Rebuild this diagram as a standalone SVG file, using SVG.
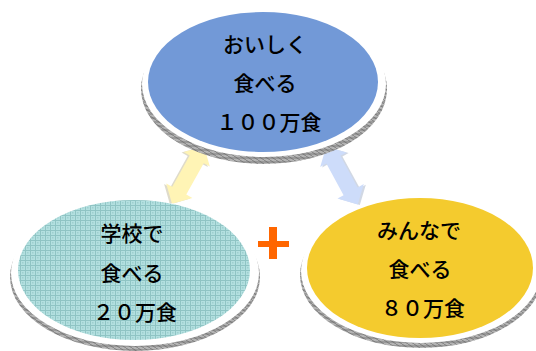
<svg xmlns="http://www.w3.org/2000/svg" width="536" height="351" viewBox="0 0 536 351">
<defs>
<style>
.t{font-family:"Noto Sans CJK JP","Noto Sans CJK SC",sans-serif;font-size:21px;font-weight:500;fill:#000;text-anchor:middle}
.rim{fill:url(#hatch)}
.disc{fill:#fff}
</style>
<pattern id="hatch" width="6" height="4" patternUnits="userSpaceOnUse">
<rect width="6" height="4" fill="#b4b4b4"/>
<path d="M0,0 L6,4 M0,2 L6,2" stroke="#666" stroke-width="0.7"/>
</pattern>
<pattern id="grid" width="5" height="5" patternUnits="userSpaceOnUse">
<rect width="5" height="5" fill="#b3e0e0"/>
<path d="M0,0.5 H5 M0.5,0 V5" stroke="#8fc4c4" stroke-width="1"/>
<rect x="2" y="2" width="1.5" height="1.5" fill="#9dcfcf"/>
</pattern>
<path id="dbl" d="M-33,0 L-18,-15 L-18,-8 L18,-8 L18,-15 L33,0 L18,15 L18,8 L-18,8 L-18,15 Z"/>
</defs>
<g id="connectors">
<g transform="translate(188,175) rotate(119)">
<use href="#dbl" fill="#b8b08a" opacity="0.45" transform="translate(1.5,1.5)"/>
<use href="#dbl" fill="#fff4b5"/>
</g>
<g transform="translate(342,175.5) rotate(61.4)">
<use href="#dbl" fill="#9aa8c4" opacity="0.45" transform="translate(1.5,-1.5)"/>
<use href="#dbl" fill="#cddcfa"/>
</g>
</g>
<g id="node-top">
<ellipse class="rim" cx="264" cy="89" rx="123" ry="75"/>
<ellipse class="disc" cx="264" cy="84" rx="122" ry="73"/>
<ellipse cx="263" cy="82" rx="115" ry="70" fill="#7299d7"/>
<text class="t" x="265" y="52">おいしく</text>
<text class="t" x="265" y="91">食べる</text>
<text class="t" x="269" y="130">１００万食</text>
</g>
<g id="node-left">
<ellipse class="rim" cx="135" cy="277" rx="125" ry="74"/>
<ellipse class="disc" cx="135" cy="273" rx="124" ry="73"/>
<ellipse cx="134" cy="270" rx="116" ry="70" fill="url(#grid)"/>
<text class="t" x="132" y="241">学校で</text>
<text class="t" x="132" y="281">食べる</text>
<text class="t" x="135" y="320">２０万食</text>
</g>
<g id="node-right">
<ellipse class="rim" cx="421" cy="275" rx="121" ry="73"/>
<ellipse class="disc" cx="421" cy="271" rx="120" ry="72"/>
<ellipse cx="420" cy="268" rx="113" ry="70" fill="#f4cb2e"/>
<text class="t" x="419" y="238">みんなで</text>
<text class="t" x="420" y="277">食べる</text>
<text class="t" x="423" y="316">８０万食</text>
</g>
<g id="plus" fill="#ff6600">
<rect x="258" y="241" width="31" height="6"/>
<rect x="269" y="227" width="8" height="32"/>
</g>
</svg>
